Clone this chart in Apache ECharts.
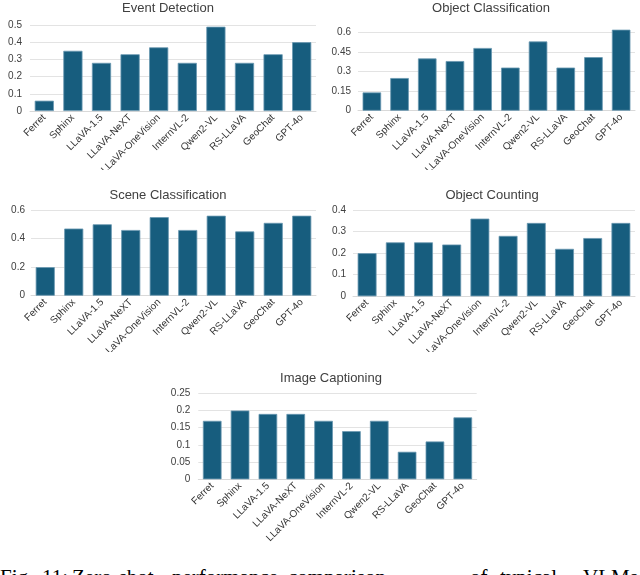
<!DOCTYPE html>
<html>
<head>
<meta charset="utf-8">
<script src="https://cdn.jsdelivr.net/npm/echarts@6/dist/echarts.min.js"></script>
<style>
  html, body { margin: 0; padding: 0; background: #fff; width: 640px; height: 575px; overflow: hidden; position: relative; }
  .c { position: absolute; overflow: hidden; }
  #caption { position: absolute; left: 0; top: 567px; width: 700px; height: 30px; font-family: "Liberation Serif", "Times New Roman", serif;
    font-size: 21px; line-height: 21px; color: #000; white-space: nowrap; }
  #caption span { position: absolute; top: 0; }
</style>
</head>
<body>
<div id="c1" class="c" style="left:0;top:0;width:320px;height:170px"></div>
<div id="c2" class="c" style="left:320px;top:0;width:320px;height:170px"></div>
<div id="c3" class="c" style="left:0;top:170px;width:320px;height:182px"></div>
<div id="c4" class="c" style="left:320px;top:170px;width:320px;height:182px"></div>
<div id="c5" class="c" style="left:0;top:352px;width:640px;height:195px"></div>
<div id="caption"><span style="left:0">Fig.</span> <span style="left:42px">11:</span> <span style="left:72px">Zero-shot</span> <span style="left:172px">performance</span> <span style="left:288px">comparison</span> <span style="left:470px">of</span> <span style="left:500px">typical</span> <span style="left:583px">VLMs</span></div>
<script>
const models = ['Ferret', 'Sphinx', 'LLaVA-1.5', 'LLaVA-NeXT', 'LLaVA-OneVision', 'InternVL-2', 'Qwen2-VL', 'RS-LLaVA', 'GeoChat', 'GPT-4o'];

const eventDetection = [0.06, 0.35, 0.28, 0.33, 0.37, 0.28, 0.49, 0.28, 0.33, 0.40];
const objectClassification = [0.14, 0.25, 0.40, 0.38, 0.48, 0.33, 0.53, 0.33, 0.41, 0.62];
const sceneClassification = [0.20, 0.47, 0.50, 0.46, 0.55, 0.46, 0.56, 0.45, 0.51, 0.56];
const objectCounting = [0.20, 0.25, 0.25, 0.24, 0.36, 0.28, 0.34, 0.22, 0.27, 0.34];
const imageCaptioning = [0.17, 0.20, 0.19, 0.19, 0.17, 0.14, 0.17, 0.08, 0.11, 0.18];

const titles = ['Event Detection', 'Object Classification', 'Scene Classification', 'Object Counting', 'Image Captioning'];
const yMax = [0.5, 0.6, 0.6, 0.4, 0.25];
const yStep = [0.1, 0.15, 0.2, 0.1, 0.05];

const FONT = '"Liberation Sans", Arial, sans-serif';

function makeOption(title, data, max, step, layout) {
  return {
    animation: false,
    title: {
      text: title, left: layout.titleX, top: layout.titleTop, textAlign: 'center',
      textStyle: { fontFamily: FONT, fontSize: 13, fontWeight: 'normal', color: '#404040' }
    },
    grid: { left: layout.left, right: layout.right, top: layout.top, bottom: layout.bottom,
            containLabel: false, outerBoundsMode: 'none' },
    xAxis: {
      type: 'category', data: models,
      axisTick: { show: false },
      axisLine: { show: true, lineStyle: { color: '#d9d9d9', width: 1 } },
      axisLabel: { interval: 0, rotate: 45, fontFamily: FONT, fontSize: 10, color: '#333333', margin: 5 }
    },
    yAxis: {
      type: 'value', min: 0, max: max, interval: step,
      axisLine: { show: false }, axisTick: { show: false },
      splitLine: { lineStyle: { color: '#e3e3e3', width: 1 } },
      axisLabel: { fontFamily: FONT, fontSize: 10, color: '#404040', margin: layout.labelMargin }
    },
    series: [{
      type: 'bar', data: data, barCategoryGap: '33%', clip: false,
      itemStyle: { color: '#175d7e', borderColor: '#6a98b1', borderWidth: 0.8 }
    }]
  };
}

const layouts = [
  { titleX: 163, titleTop: -3, left: 30, right: 4, top: 25, bottom: 59, labelMargin: 8 },
  { titleX: 166, titleTop: -3, left: 38, right: 5, top: 32.3, bottom: 59.3, labelMargin: 7 },
  { titleX: 163, titleTop: 14, left: 31, right: 4, top: 40, bottom: 56.3, labelMargin: 6 },
  { titleX: 167, titleTop: 14, left: 33, right: 5, top: 40, bottom: 55.7, labelMargin: 7 },
  { titleX: 326, titleTop: 15, left: 198.3, right: 163.3, top: 41.3, bottom: 67.7, labelMargin: 8 }
];
const datasets = [eventDetection, objectClassification, sceneClassification, objectCounting, imageCaptioning];

['c1', 'c2', 'c3', 'c4', 'c5'].forEach((id, i) => {
  const chart = echarts.init(document.getElementById(id), null, { renderer: 'canvas' });
  chart.setOption(makeOption(titles[i], datasets[i], yMax[i], yStep[i], layouts[i]));
});
</script>
</body>
</html>
